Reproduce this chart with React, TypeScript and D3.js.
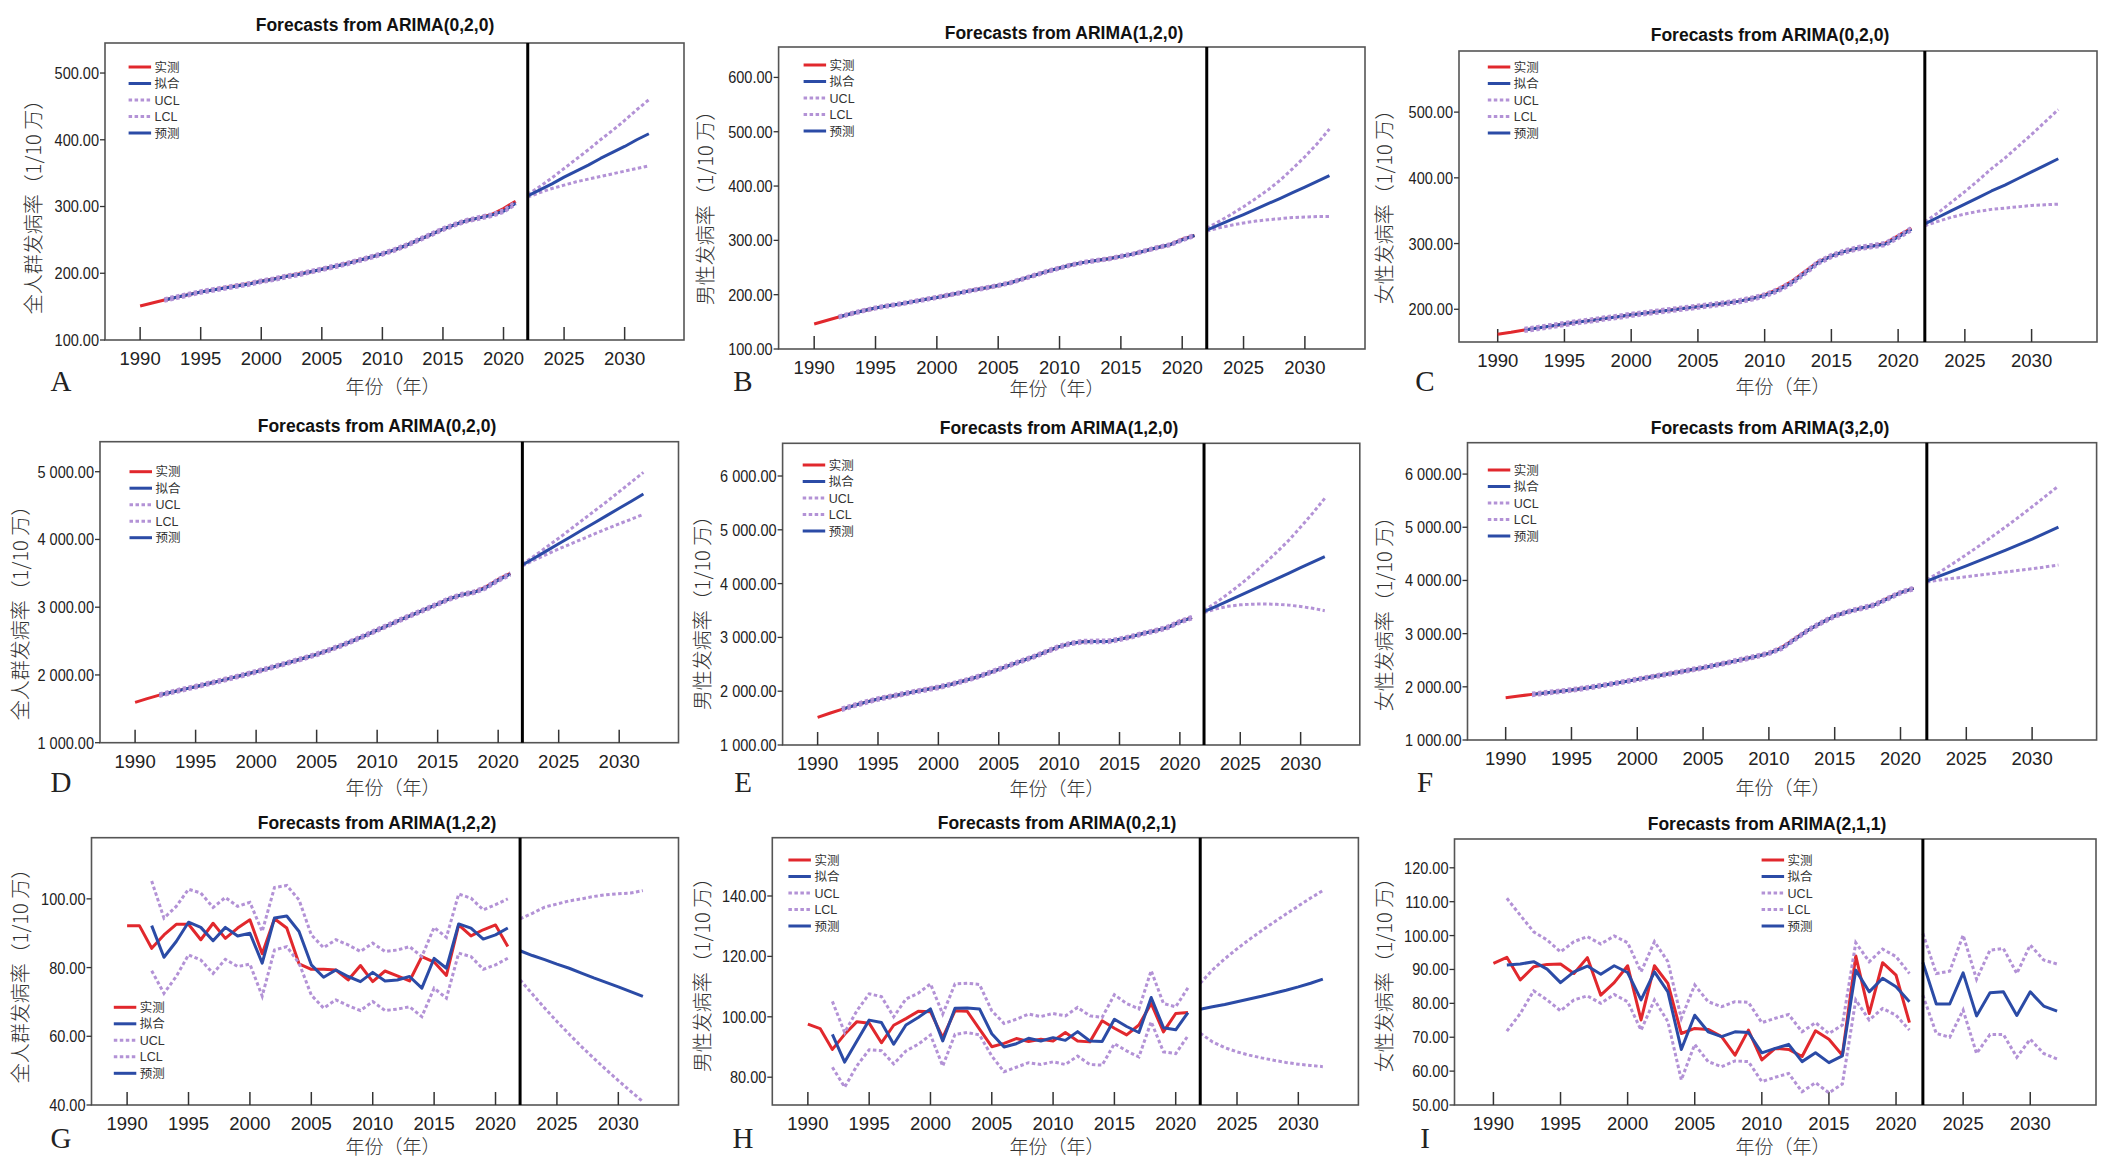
import React from "react";
import * as d3 from "d3";

// ---- data ----
const obsYears = d3.range(1990, 2022);
const fcYears = d3.range(2022, 2033);
const xTickYears = [1990, 1995, 2000, 2005, 2010, 2015, 2020, 2025, 2030];
const legendLabels = ["实测", "拟合", "UCL", "LCL", "预测"];

// A 全人群 ARIMA(0,2,0)
const aObs = [151, 155.5, 160, 164, 168, 172, 175, 178.5, 181.5, 184.5, 188, 191.5, 195, 198.5, 202, 206, 210, 214.5, 219, 224, 229, 235, 242, 250, 258, 266, 273, 279, 283, 288, 297, 308];
const aFit = [160, 164, 168, 172, 175, 178, 181, 184, 188, 191, 195, 198, 202, 206, 210, 214, 219, 224, 229, 235, 242, 250, 258, 266, 273, 279, 283, 287, 293, 305];
const aUclIn = [162, 166, 170, 174, 177, 180, 183, 186, 190, 193, 197, 200, 204, 208, 212, 216, 221, 226, 231, 237, 244, 252, 260, 268, 275, 281, 285, 289, 295, 307];
const aLclIn = [158, 162, 166, 170, 173, 176, 179, 182, 186, 189, 193, 196, 200, 204, 208, 212, 217, 222, 227, 233, 240, 248, 256, 264, 271, 277, 281, 285, 291, 303];
const aFc = [316, 325, 334, 344, 353, 362, 372, 381, 390, 400, 409];
const aUclFc = [318, 330, 343, 357, 371, 385, 400, 414, 429, 445, 460];
const aLclFc = [314, 321, 327, 332, 337, 341, 345, 349, 353, 357, 361];

// B 男性 ARIMA(1,2,0)
const bObs = [146, 152.5, 159, 165, 170.5, 175.5, 179.5, 183, 187, 191, 195, 199.5, 204, 208.5, 212.5, 217, 222, 229, 236, 243, 249, 255, 259.5, 263, 266, 270.5, 275, 281, 287, 292, 302, 309];
const bFit = [159, 165, 170.5, 175.5, 179.5, 183, 187, 191, 195, 199.5, 204, 208.5, 212.5, 217, 222, 229, 236, 243, 249, 255, 259.5, 263, 266, 270.5, 275, 281, 287, 292, 301, 309];
const bUclIn = [161, 167, 172.5, 177.5, 181.5, 185, 189, 193, 197, 201.5, 206, 210.5, 214.5, 219, 224, 231, 238, 245, 251, 257, 261.5, 265, 268, 272.5, 277, 283, 289, 294, 303, 311];
const bLclIn = [157, 163, 168.5, 173.5, 177.5, 181, 185, 189, 193, 197.5, 202, 206.5, 210.5, 215, 220, 227, 234, 241, 247, 253, 257.5, 261, 264, 268.5, 273, 279, 285, 290, 299, 307];
const bFc = [319, 328.5, 338, 347.5, 357.5, 367.5, 377.5, 388, 398, 408.5, 419];
const bUclFc = [322, 335, 348, 362, 377, 393, 411, 432, 454, 478, 505];
const bLclFc = [317, 323, 328, 332, 335.5, 338, 340, 342, 343, 344, 344];

// C 女性 ARIMA(0,2,0)
const cObs = [162, 165, 168.5, 171.5, 174.5, 177.5, 180.5, 183, 186, 188.5, 191.5, 194, 196.5, 199, 201.5, 204, 206.5, 209, 212, 216, 222, 230.5, 242, 257, 272, 281, 288, 293, 296, 300, 312, 323];
const cFit = [168.5, 171.5, 174.5, 177.5, 180.5, 183, 186, 188.5, 191.5, 194, 196.5, 199, 201.5, 204, 206.5, 209, 212, 216, 221, 229, 240, 255, 271, 281, 288, 293, 296, 299, 310, 322];
const cUclIn = [171, 174, 177, 180, 183, 185.5, 188.5, 191, 194, 196.5, 199, 201.5, 204, 206.5, 209, 211.5, 214.5, 218.5, 223.5, 231.5, 242.5, 257.5, 273.5, 283.5, 290.5, 295.5, 298.5, 301.5, 312.5, 324.5];
const cLclIn = [166, 169, 172, 175, 178, 180.5, 183.5, 186, 189, 191.5, 194, 196.5, 199, 201.5, 204, 206.5, 209.5, 213.5, 218.5, 226.5, 237.5, 252.5, 268.5, 278.5, 285.5, 290.5, 293.5, 296.5, 307.5, 319.5];
const cFc = [330, 340, 350, 360, 370, 380, 389, 399, 409, 419, 429];
const cUclFc = [333, 347, 363, 379, 396, 414, 430, 448, 466, 485, 504];
const cLclFc = [327, 334, 340, 345, 349, 352, 354, 356, 358, 359, 360];

// D 全人群 ARIMA(0,2,0)
const dObs = [1595, 1650, 1703, 1745, 1787, 1827, 1870, 1913, 1957, 2002, 2048, 2097, 2147, 2198, 2250, 2304, 2366, 2432, 2505, 2582, 2663, 2740, 2820, 2895, 2970, 3047, 3125, 3185, 3220, 3300, 3410, 3499];
const dFit = [1703, 1745, 1787, 1827, 1870, 1913, 1957, 2002, 2048, 2097, 2147, 2198, 2250, 2304, 2366, 2432, 2505, 2582, 2663, 2740, 2820, 2895, 2970, 3047, 3125, 3185, 3220, 3290, 3400, 3490];
const dUclIn = [1723, 1765, 1807, 1847, 1890, 1933, 1977, 2022, 2068, 2117, 2167, 2218, 2270, 2324, 2386, 2452, 2525, 2602, 2683, 2760, 2840, 2915, 2990, 3067, 3145, 3205, 3240, 3310, 3420, 3510];
const dLclIn = [1683, 1725, 1767, 1807, 1850, 1893, 1937, 1982, 2028, 2077, 2127, 2178, 2230, 2284, 2346, 2412, 2485, 2562, 2643, 2720, 2800, 2875, 2950, 3027, 3105, 3165, 3200, 3270, 3380, 3470];
const dFc = [3622, 3727, 3832, 3936, 4041, 4146, 4251, 4356, 4460, 4565, 4670];
const dUclFc = [3635, 3758, 3888, 4018, 4154, 4290, 4427, 4563, 4705, 4847, 4990];
const dLclFc = [3610, 3698, 3780, 3860, 3935, 4010, 4085, 4160, 4230, 4300, 4370];

// E 男性 ARIMA(1,2,0)
const eObs = [1514, 1590, 1663, 1733, 1797, 1855, 1900, 1945, 1990, 2030, 2072, 2125, 2185, 2250, 2325, 2406, 2490, 2570, 2650, 2740, 2828, 2890, 2921, 2925, 2925, 2964, 3014, 3076, 3125, 3187, 3293, 3367];
const eFit = [1663, 1733, 1797, 1855, 1900, 1945, 1990, 2030, 2072, 2125, 2185, 2250, 2325, 2406, 2490, 2570, 2650, 2740, 2828, 2890, 2921, 2925, 2925, 2964, 3014, 3076, 3125, 3187, 3290, 3367];
const eUclIn = [1688, 1758, 1822, 1880, 1925, 1970, 2015, 2055, 2097, 2150, 2210, 2275, 2350, 2431, 2515, 2595, 2675, 2765, 2853, 2915, 2946, 2950, 2950, 2989, 3039, 3101, 3150, 3212, 3315, 3392];
const eLclIn = [1638, 1708, 1772, 1830, 1875, 1920, 1965, 2005, 2047, 2100, 2160, 2225, 2300, 2381, 2465, 2545, 2625, 2715, 2803, 2865, 2896, 2900, 2900, 2939, 2989, 3051, 3100, 3162, 3265, 3342];
const eFc = [3478, 3578, 3679, 3781, 3883, 3986, 4089, 4192, 4295, 4398, 4501];
const eUclFc = [3500, 3650, 3810, 3985, 4170, 4370, 4580, 4800, 5050, 5310, 5585];
const eLclFc = [3460, 3530, 3580, 3605, 3618, 3621, 3615, 3600, 3575, 3540, 3497];

// F 女性 ARIMA(3,2,0)
const fObs = [1796, 1827, 1858, 1885, 1912, 1940, 1975, 2012, 2052, 2095, 2140, 2183, 2226, 2270, 2315, 2360, 2410, 2462, 2516, 2570, 2629, 2742, 2911, 3068, 3206, 3331, 3412, 3475, 3538, 3663, 3770, 3851];
const fFit = [1858, 1885, 1912, 1940, 1975, 2012, 2052, 2095, 2140, 2183, 2226, 2270, 2315, 2360, 2410, 2462, 2516, 2570, 2629, 2730, 2900, 3068, 3206, 3331, 3412, 3475, 3538, 3655, 3770, 3851];
const fUclIn = [1883, 1910, 1937, 1965, 2000, 2037, 2077, 2120, 2165, 2208, 2251, 2295, 2340, 2385, 2435, 2487, 2541, 2595, 2654, 2755, 2925, 3093, 3231, 3356, 3437, 3500, 3563, 3680, 3795, 3876];
const fLclIn = [1833, 1860, 1887, 1915, 1950, 1987, 2027, 2070, 2115, 2158, 2201, 2245, 2290, 2335, 2385, 2437, 2491, 2545, 2604, 2705, 2875, 3043, 3181, 3306, 3387, 3450, 3513, 3630, 3745, 3826];
const fFc = [3989, 4085, 4180, 4275, 4372, 4470, 4570, 4672, 4776, 4888, 5004];
const fUclFc = [4010, 4160, 4320, 4485, 4655, 4830, 5010, 5195, 5385, 5580, 5775];
const fLclFc = [3970, 4010, 4040, 4070, 4100, 4130, 4160, 4190, 4220, 4255, 4290];

// G 全人群 ARIMA(1,2,2)
const gObs = [92.2, 92.2, 85.6, 89.5, 92.6, 92.6, 88.1, 92.9, 88.5, 91.5, 93.9, 84.0, 94.2, 91.5, 81.1, 79.5, 79.5, 79.3, 76.4, 80.6, 75.9, 79.0, 77.6, 76.1, 83.2, 81.6, 77.7, 92.4, 89.2, 91.0, 92.4, 86.1];
const gFit = [92.2, 83.0, 87.6, 93.2, 91.7, 87.8, 91.7, 89.2, 90.0, 81.3, 94.4, 95.0, 90.5, 80.8, 77.2, 79.3, 77.4, 75.9, 78.6, 76.1, 76.4, 77.4, 74.0, 82.7, 79.8, 92.7, 91.5, 88.3, 89.5, 91.5];
const gUclIn = [105.2, 94.4, 97.8, 102.8, 101.7, 97.5, 100.4, 97.8, 99.0, 90.5, 103.3, 103.9, 99.7, 89.5, 85.8, 88.1, 86.6, 84.7, 87.1, 84.7, 85.1, 86.1, 83.2, 91.7, 88.8, 101.4, 100.2, 96.8, 98.3, 100.0];
const gLclIn = [79.1, 72.5, 77.4, 83.7, 82.2, 78.3, 82.4, 80.3, 81.0, 71.7, 85.1, 86.1, 81.3, 72.0, 68.2, 70.6, 68.9, 67.5, 70.1, 67.5, 67.9, 68.6, 65.7, 74.0, 71.1, 84.2, 83.2, 79.5, 80.8, 82.7];
const gFc = [84.9, 83.5, 82.3, 81.0, 79.8, 78.4, 77.0, 75.7, 74.4, 73.0, 71.6];
const gUclFc = [94.2, 95.8, 97.6, 98.5, 99.4, 100.0, 100.7, 101.2, 101.5, 101.7, 102.4];
const gLclFc = [76.4, 72.3, 68.2, 64.3, 60.6, 57.0, 53.6, 50.3, 47.1, 44.0, 41.0];

// H 男性 ARIMA(0,2,1)
const hObs = [97.6, 96.1, 89.2, 94.2, 98.4, 97.9, 91.4, 97.2, 99.4, 101.8, 101.7, 93.1, 102.0, 101.8, 95.9, 90.1, 91.2, 92.8, 91.8, 92.6, 92.0, 94.8, 92.0, 91.7, 98.7, 96.2, 94.0, 97.3, 104.4, 95.0, 101.1, 101.4];
const hFit = [94.2, 85.0, 92.0, 98.9, 98.1, 90.9, 97.3, 99.8, 102.6, 92.0, 102.8, 102.9, 102.6, 94.4, 90.0, 91.1, 92.9, 92.0, 93.1, 92.2, 95.1, 92.0, 91.8, 99.2, 96.8, 94.8, 106.4, 96.4, 95.7, 101.4];
const hUclIn = [105.1, 94.8, 102.0, 107.6, 106.7, 100.0, 105.9, 107.8, 110.9, 100.9, 110.9, 111.1, 110.7, 102.0, 97.8, 99.2, 100.9, 100.1, 101.1, 100.3, 103.1, 100.3, 99.8, 107.3, 104.4, 102.6, 115.3, 104.4, 103.3, 109.6];
const hLclIn = [83.3, 76.7, 83.8, 89.1, 88.8, 84.4, 88.7, 90.9, 94.0, 83.7, 94.2, 94.8, 94.0, 87.0, 81.8, 83.3, 84.8, 84.2, 85.1, 84.2, 87.0, 84.2, 84.0, 91.1, 88.7, 86.7, 98.4, 88.4, 87.8, 93.7];
const hFc = [102.5, 103.3, 104.1, 105.0, 105.9, 106.8, 107.8, 108.8, 109.9, 111.1, 112.5];
const hUclFc = [111.1, 115.5, 119.2, 122.5, 125.6, 128.5, 131.3, 134.0, 136.7, 139.3, 141.8];
const hLclFc = [94.6, 91.7, 89.8, 88.4, 87.3, 86.4, 85.6, 84.9, 84.3, 83.9, 83.5];

// I 女性 ARIMA(2,1,1), fitted from 1991
const iObs = [91.8, 93.6, 86.9, 90.8, 91.5, 91.6, 88.8, 93.5, 82.4, 86.1, 91.1, 75.1, 91.1, 85.9, 71.1, 72.6, 72.3, 70.2, 64.7, 72.1, 63.3, 66.7, 66.4, 64.3, 71.9, 69.4, 64.7, 94.0, 77.0, 92.0, 88.3, 74.3];
const iFit = [91.3, 91.6, 92.3, 90.1, 86.1, 89.3, 91.0, 88.6, 91.1, 89.1, 81.0, 89.3, 83.4, 66.4, 76.5, 71.6, 70.2, 71.6, 71.4, 65.4, 66.7, 67.9, 62.8, 65.4, 62.5, 64.5, 89.8, 83.4, 87.4, 84.9, 80.5];
const iUclIn = [111.0, 106.0, 101.1, 98.7, 95.2, 98.2, 99.7, 97.5, 99.9, 97.9, 89.3, 98.2, 92.3, 75.6, 85.4, 80.5, 79.0, 80.5, 80.3, 74.3, 75.6, 76.7, 71.6, 74.3, 71.1, 73.6, 97.9, 92.3, 96.0, 93.8, 88.8];
const iLclIn = [71.8, 77.0, 83.7, 81.0, 77.8, 81.0, 82.2, 80.0, 82.6, 80.5, 72.1, 81.0, 74.6, 57.4, 67.9, 62.8, 61.3, 63.0, 62.8, 56.9, 58.2, 59.3, 53.9, 56.6, 53.6, 56.2, 81.0, 75.1, 78.5, 76.5, 72.1];
const iFc = [92.1, 79.8, 79.8, 89.0, 76.3, 83.1, 83.4, 76.4, 83.4, 79.2, 77.7];
const iUclFc = [100.6, 88.8, 89.5, 100.1, 87.1, 95.7, 96.2, 88.8, 97.2, 92.8, 91.6];
const iLclFc = [82.4, 71.1, 70.0, 78.0, 65.2, 70.8, 70.8, 64.1, 69.4, 65.2, 63.6];

// ---- layout ----
const W = 2106;
const H = 1164;
const X_DOMAIN: [number, number] = [1987.1, 2034.9];
const CUT_YEAR = 2022;
const C = { obs: "#E1282D", fit: "#2B4BA6", band: "#B392D6", frame: "#555", text: "#222" };
const DASH = "3.5,2.5";
const LW = 3;
const TICK_FONT = "'Liberation Sans', Arial, sans-serif";
const CJK_FONT = "'Noto Sans CJK SC', 'Noto Sans', sans-serif";
const Y_ALL = "全人群发病率（1/10 万）";
const Y_MALE = "男性发病率（1/10 万）";
const Y_FEMALE = "女性发病率（1/10 万）";

const panels = [
  { key: "A", title: "Forecasts from ARIMA(0,2,0)", yLabel: Y_ALL, yDomain: [100, 545], yTicks: [100, 200, 300, 400, 500], fitStart: 1992,
    obs: aObs, fit: aFit, uclIn: aUclIn, lclIn: aLclIn, uclFc: aUclFc, lclFc: aLclFc, fc: aFc,
    box: { l: 105, r: 684, t: 43, b: 340 }, titleX: 375, titleY: 31, leg: { x: 128.6, y: 67 }, yLab: { x: 33.5, y: 202 }, xLab: { x: 393, y: 394 }, letter: { x: 61, y: 391 } },
  { key: "B", title: "Forecasts from ARIMA(1,2,0)", yLabel: Y_MALE, yDomain: [100, 656], yTicks: [100, 200, 300, 400, 500, 600], fitStart: 1992,
    obs: bObs, fit: bFit, uclIn: bUclIn, lclIn: bLclIn, uclFc: bUclFc, lclFc: bLclFc, fc: bFc,
    box: { l: 778.6, r: 1365, t: 47, b: 349 }, titleX: 1064, titleY: 39, leg: { x: 803.6, y: 65 }, yLab: { x: 706, y: 203 }, xLab: { x: 1057, y: 396 }, letter: { x: 743, y: 391 } },
  { key: "C", title: "Forecasts from ARIMA(0,2,0)", yLabel: Y_FEMALE, yDomain: [150.2, 593], yTicks: [200, 300, 400, 500], fitStart: 1992,
    obs: cObs, fit: cFit, uclIn: cUclIn, lclIn: cLclIn, uclFc: cUclFc, lclFc: cLclFc, fc: cFc,
    box: { l: 1459, r: 2097, t: 51, b: 342 }, titleX: 1770, titleY: 41, leg: { x: 1487.8, y: 67 }, yLab: { x: 1385, y: 202 }, xLab: { x: 1783, y: 394 }, letter: { x: 1425, y: 391 } },
  { key: "D", title: "Forecasts from ARIMA(0,2,0)", yLabel: Y_ALL, yDomain: [1000, 5443], yTicks: [1000, 2000, 3000, 4000, 5000], fitStart: 1992,
    obs: dObs, fit: dFit, uclIn: dUclIn, lclIn: dLclIn, uclFc: dUclFc, lclFc: dLclFc, fc: dFc,
    box: { l: 100, r: 678.5, t: 441.7, b: 742.7 }, titleX: 377, titleY: 432, leg: { x: 129.5, y: 471.7 }, yLab: { x: 21, y: 608 }, xLab: { x: 393, y: 795 }, letter: { x: 61, y: 792 } },
  { key: "E", title: "Forecasts from ARIMA(1,2,0)", yLabel: Y_MALE, yDomain: [1000, 6608], yTicks: [1000, 2000, 3000, 4000, 5000, 6000], fitStart: 1992,
    obs: eObs, fit: eFit, uclIn: eUclIn, lclIn: eLclIn, uclFc: eUclFc, lclFc: eLclFc, fc: eFc,
    box: { l: 782.6, r: 1359.8, t: 443.3, b: 745 }, titleX: 1059, titleY: 434, leg: { x: 802.7, y: 465 }, yLab: { x: 703, y: 608 }, xLab: { x: 1057, y: 796 }, letter: { x: 743, y: 792 } },
  { key: "F", title: "Forecasts from ARIMA(3,2,0)", yLabel: Y_FEMALE, yDomain: [1000, 6590], yTicks: [1000, 2000, 3000, 4000, 5000, 6000], fitStart: 1992,
    obs: fObs, fit: fFit, uclIn: fUclIn, lclIn: fLclIn, uclFc: fUclFc, lclFc: fLclFc, fc: fFc,
    box: { l: 1467.5, r: 2096.6, t: 442.7, b: 740 }, titleX: 1770, titleY: 434, leg: { x: 1487.8, y: 470 }, yLab: { x: 1385, y: 609 }, xLab: { x: 1783, y: 795 }, letter: { x: 1425, y: 792 } },
  { key: "G", title: "Forecasts from ARIMA(1,2,2)", yLabel: Y_ALL, yDomain: [40, 117.8], yTicks: [40, 60, 80, 100], fitStart: 1992,
    obs: gObs, fit: gFit, uclIn: gUclIn, lclIn: gLclIn, uclFc: gUclFc, lclFc: gLclFc, fc: gFc,
    box: { l: 91.5, r: 678.5, t: 837.7, b: 1105 }, titleX: 377, titleY: 828.5, leg: { x: 113.8, y: 1007.3 }, yLab: { x: 21, y: 971 }, xLab: { x: 393, y: 1153.5 }, letter: { x: 61, y: 1148 } },
  { key: "H", title: "Forecasts from ARIMA(0,2,1)", yLabel: Y_MALE, yDomain: [70.8, 159.3], yTicks: [80, 100, 120, 140], fitStart: 1992,
    obs: hObs, fit: hFit, uclIn: hUclIn, lclIn: hLclIn, uclFc: hUclFc, lclFc: hLclFc, fc: hFc,
    box: { l: 772.3, r: 1358.4, t: 837.7, b: 1105 }, titleX: 1057, titleY: 828.5, leg: { x: 788.4, y: 860 }, yLab: { x: 703, y: 970 }, xLab: { x: 1057, y: 1153.5 }, letter: { x: 743, y: 1148 } },
  { key: "I", title: "Forecasts from ARIMA(2,1,1)", yLabel: Y_FEMALE, yDomain: [50, 128.5], yTicks: [50, 60, 70, 80, 90, 100, 110, 120], fitStart: 1991,
    obs: iObs, fit: iFit, uclIn: iUclIn, lclIn: iLclIn, uclFc: iUclFc, lclFc: iLclFc, fc: iFc,
    box: { l: 1454.5, r: 2096, t: 839, b: 1105 }, titleX: 1767, titleY: 829.5, leg: { x: 1761.6, y: 860 }, yLab: { x: 1385, y: 970 }, xLab: { x: 1783, y: 1153.5 }, letter: { x: 1425, y: 1148 } },
];

type PanelDef = (typeof panels)[number];

const fmtTick = (v: number) => {
  const [i, d] = v.toFixed(2).split(".");
  return i.replace(/\B(?=(\d{3})+(?!\d))/g, " ") + "." + d;
};

function Panel({ p }: { p: PanelDef }) {
  const { box } = p;
  const x = d3.scaleLinear().domain(X_DOMAIN).range([box.l, box.r]);
  const y = d3.scaleLinear().domain(p.yDomain).range([box.b, box.t]);
  const path = (years: number[], vals: number[]) =>
    d3.line<number>().x((_, i) => x(years[i])).y((v) => y(v))(vals) || "";

  const fitYears = d3.range(p.fitStart, 2022);

  const legendStyles = [
    { color: C.obs, dash: undefined },
    { color: C.fit, dash: undefined },
    { color: C.band, dash: DASH },
    { color: C.band, dash: DASH },
    { color: C.fit, dash: undefined },
  ];

  const bands: [number[], number[]][] = [
    [fitYears, p.uclIn],
    [fitYears, p.lclIn],
    [fcYears, p.uclFc],
    [fcYears, p.lclFc],
  ];

  return (
    <g>
      <text x={p.titleX} y={p.titleY} textAnchor="middle" fontFamily={TICK_FONT} fontWeight="bold" fontSize={17.5} fill="#111">
        {p.title}
      </text>

      <rect x={box.l} y={box.t} width={box.r - box.l} height={box.b - box.t} fill="#fff" stroke={C.frame} strokeWidth={1.6} />

      {/* y axis */}
      {p.yTicks.map((t) => (
        <g key={t}>
          <line x1={box.l - 5} x2={box.l} y1={y(t)} y2={y(t)} stroke="#333" strokeWidth={1.3} />
          <text transform={`translate(${box.l - 6},${y(t)}) scale(0.88,1)`} dy="0.36em" textAnchor="end" fontFamily={TICK_FONT} fontSize={16.5} fill={C.text}>
            {fmtTick(t)}
          </text>
        </g>
      ))}

      {/* x axis */}
      {xTickYears.map((t) => (
        <g key={t}>
          <line x1={x(t)} x2={x(t)} y1={box.b} y2={box.b - 13} stroke="#333" strokeWidth={1.5} />
          <text x={x(t)} y={box.b + 25} textAnchor="middle" fontFamily={TICK_FONT} fontSize={18.5} fill={C.text}>
            {t}
          </text>
        </g>
      ))}

      {/* series, drawn in SPSS order */}
      <path d={path(obsYears, p.obs)} fill="none" stroke={C.obs} strokeWidth={LW} strokeLinejoin="round" />
      <path d={path(fitYears, p.fit)} fill="none" stroke={C.fit} strokeWidth={LW} strokeLinejoin="round" />
      {bands.map(([yrs, vals], i) => (
        <path key={i} d={path(yrs, vals)} fill="none" stroke={C.band} strokeWidth={LW} strokeDasharray={DASH} />
      ))}
      <path d={path(fcYears, p.fc)} fill="none" stroke={C.fit} strokeWidth={LW} strokeLinejoin="round" />

      {/* forecast origin */}
      <line x1={x(CUT_YEAR)} x2={x(CUT_YEAR)} y1={box.t} y2={box.b} stroke="#000" strokeWidth={3} />

      {/* legend */}
      {legendLabels.map((lab, i) => {
        const ly = p.leg.y + i * 16.5;
        const st = legendStyles[i];
        return (
          <g key={lab}>
            <line x1={p.leg.x} x2={p.leg.x + 22.5} y1={ly} y2={ly} stroke={st.color} strokeWidth={LW} strokeDasharray={st.dash} />
            <text x={p.leg.x + 26} y={ly + 4.5} fontFamily={`'Liberation Sans', ${CJK_FONT}`} fontSize={12.5} fill="#333">
              {lab}
            </text>
          </g>
        );
      })}

      {/* axis titles */}
      <text transform={`translate(${p.yLab.x},${p.yLab.y}) rotate(-90)`} dy="0.36em" textAnchor="middle" fontFamily={CJK_FONT} fontWeight={300} fontSize={20} fill="#333">
        {p.yLabel}
      </text>
      <text x={p.xLab.x} y={p.xLab.y} textAnchor="middle" fontFamily={CJK_FONT} fontWeight={300} fontSize={19} fill="#333">
        年份（年）
      </text>
      <text x={p.letter.x} y={p.letter.y} textAnchor="middle" fontFamily="'Liberation Serif', 'DejaVu Serif', serif" fontSize={29} fill="#222">
        {p.key}
      </text>
    </g>
  );
}

export default function App() {
  return (
    <div>
      <style>{`body{margin:0;background:#fff}`}</style>
      <svg width={W} height={H} viewBox={`0 0 ${W} ${H}`} style={{ display: "block" }}>
        <rect width={W} height={H} fill="#fff" />
        {panels.map((p) => (
          <Panel key={p.key} p={p} />
        ))}
      </svg>
    </div>
  );
}
